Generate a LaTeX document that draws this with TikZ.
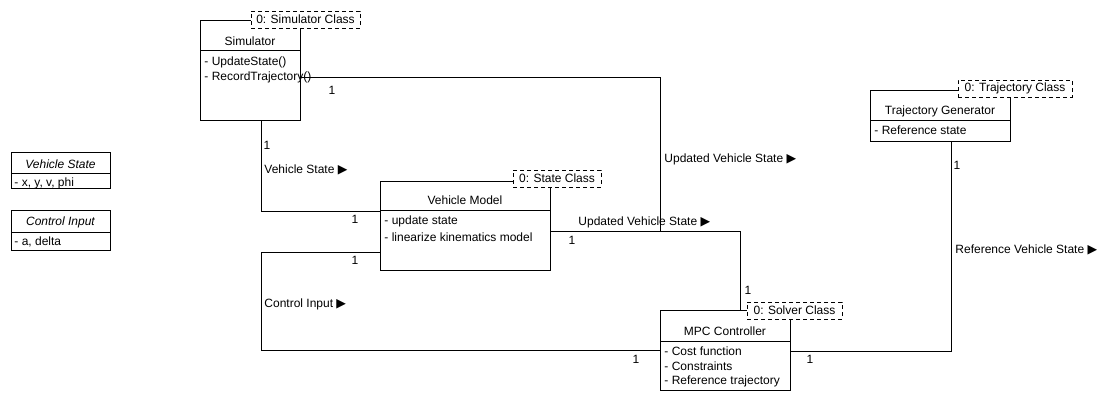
\documentclass[tikz,border=0pt]{standalone}
\usepackage{fontspec}
\setmainfont{Liberation Sans}
\newfontfamily\dejavu{DejaVu Sans}
\newcommand{\tri}{{\dejavu\fontsize{12.5}{14}\selectfont ▶}}
\begin{document}
\begin{tikzpicture}[x=1pt,y=-1pt, font=\fontsize{12}{14}\selectfont, line width=0.9pt,
  cls/.style={draw, fill=white, inner sep=0pt, outer sep=0pt, anchor=north west},
  tagbox/.style={draw, dashed, dash pattern=on 4pt off 3pt, fill=white, inner sep=0pt, outer sep=0pt, anchor=north west, minimum height=17pt},
  ttl/.style={inner sep=0pt, anchor=center},
  itm/.style={inner sep=0pt, anchor=west},
  lbl/.style={inner sep=0pt, anchor=west},
  mult/.style={inner sep=0pt, anchor=center},
  sep/.style={draw}
]
\useasboundingbox (0,0) rectangle (1120,400);

% ---------- connector end points ----------
\coordinate (simR) at (300,77);
\coordinate (simTurn) at (660,77);
\coordinate (joinA) at (660,231);
\coordinate (simB) at (261,120);
\coordinate (vsTurn) at (261,211);
\coordinate (vmLtop) at (380,211);
\coordinate (vmLbot) at (380,252);
\coordinate (ciTurn1) at (261,252);
\coordinate (ciTurn2) at (261,350);
\coordinate (mpcL) at (660,350);
\coordinate (vmR) at (550,231);
\coordinate (uvTurn) at (740,231);
\coordinate (mpcT) at (740,310);
\coordinate (mpcR) at (790,351);
\coordinate (rvTurn) at (951,351);
\coordinate (tgB) at (951,141);

% ---------- connectors ----------
\draw (simR) -- (simTurn) -- (joinA);
\draw (simB) -- (vsTurn) -- (vmLtop);
\draw (vmLbot) -- (ciTurn1) -- (ciTurn2) -- (mpcL);
\draw (vmR) -- (uvTurn) -- (mpcT);
\draw (mpcR) -- (rvTurn) -- (tgB);

% ---------- Simulator ----------
\node[cls, minimum width=100pt, minimum height=100pt] (sim) at (200,20) {};
\draw (200,50) -- (300,50);
\node[ttl] (simT) at (250,41) {Simulator};
\node[itm] (simI1) at (204,62) {- UpdateState()};
\node[itm] (simI2) at (204,77) {- RecordTrajectory()};
\node[tagbox, minimum width=109pt] (simTag) at (251,11) {0: Simulator Class};

% ---------- Vehicle Model ----------
\node[cls, minimum width=170pt, minimum height=89pt] (vm) at (380,181) {};
\draw (380,210) -- (550,210);
\node[ttl] (vmT) at (465,200) {Vehicle Model};
\node[itm] (vmI1) at (384,221) {- update state};
\node[itm] (vmI2) at (384,237) {- linearize kinematics model};
\node[tagbox, minimum width=88pt] (vmTag) at (513,170) {0: State Class};

% ---------- MPC Controller ----------
\node[cls, minimum width=130pt, minimum height=80pt] (mpc) at (660,310) {};
\draw (660,341) -- (790,341);
\node[ttl] (mpcT2) at (725,331) {MPC Controller};
\node[itm] (mpcI1) at (664,351) {- Cost function};
\node[itm] (mpcI2) at (664,366) {- Constraints};
\node[itm] (mpcI3) at (664,381) {- Reference trajectory};
\node[tagbox, minimum width=95pt] (mpcTag) at (747,302) {0: Solver Class};

% ---------- Trajectory Generator ----------
\node[cls, minimum width=140pt, minimum height=51pt] (tg) at (870,90) {};
\draw (870,120) -- (1010,120);
\node[ttl] (tgT) at (940,111) {Trajectory Generator};
\node[itm] (tgI1) at (874,130) {- Reference state};
\node[tagbox, minimum width=114pt] (tgTag) at (958,80) {0: Trajectory Class};

% ---------- legend classes ----------
\node[cls, minimum width=99pt, minimum height=36pt] (vs) at (11,152) {};
\draw (11,173) -- (110,173);
\node[ttl] (vsT) at (60.5,164) {\itshape Vehicle State};
\node[itm] (vsI) at (14,183) {- x, y, v, phi};

\node[cls, minimum width=99pt, minimum height=40pt] (ci) at (11,210) {};
\draw (11,232) -- (110,232);
\node[ttl] (ciT) at (60.5,222) {\itshape Control Input};
\node[itm] (ciI) at (14,242) {- a, delta};

% ---------- labels ----------
\node[mult] (m1) at (332,90) {1};
\node[lbl] (l1) at (664,159) {Updated Vehicle State \tri};
\node[mult] (m2) at (267,145) {1};
\node[lbl] (l2) at (264,170) {Vehicle State \tri};
\node[mult] (m3) at (355,219) {1};
\node[mult] (m4) at (355,260) {1};
\node[lbl] (l3) at (264,304) {Control Input \tri};
\node[mult] (m5) at (636,359) {1};
\node[lbl] (l4) at (578,222) {Updated Vehicle State \tri};
\node[mult] (m6) at (572,240) {1};
\node[mult] (m7) at (748,290) {1};
\node[mult] (m8) at (810,359) {1};
\node[mult] (m9) at (957,165) {1};
\node[lbl] (l5) at (955,250) {Reference Vehicle State \tri};
\end{tikzpicture}
\end{document}
